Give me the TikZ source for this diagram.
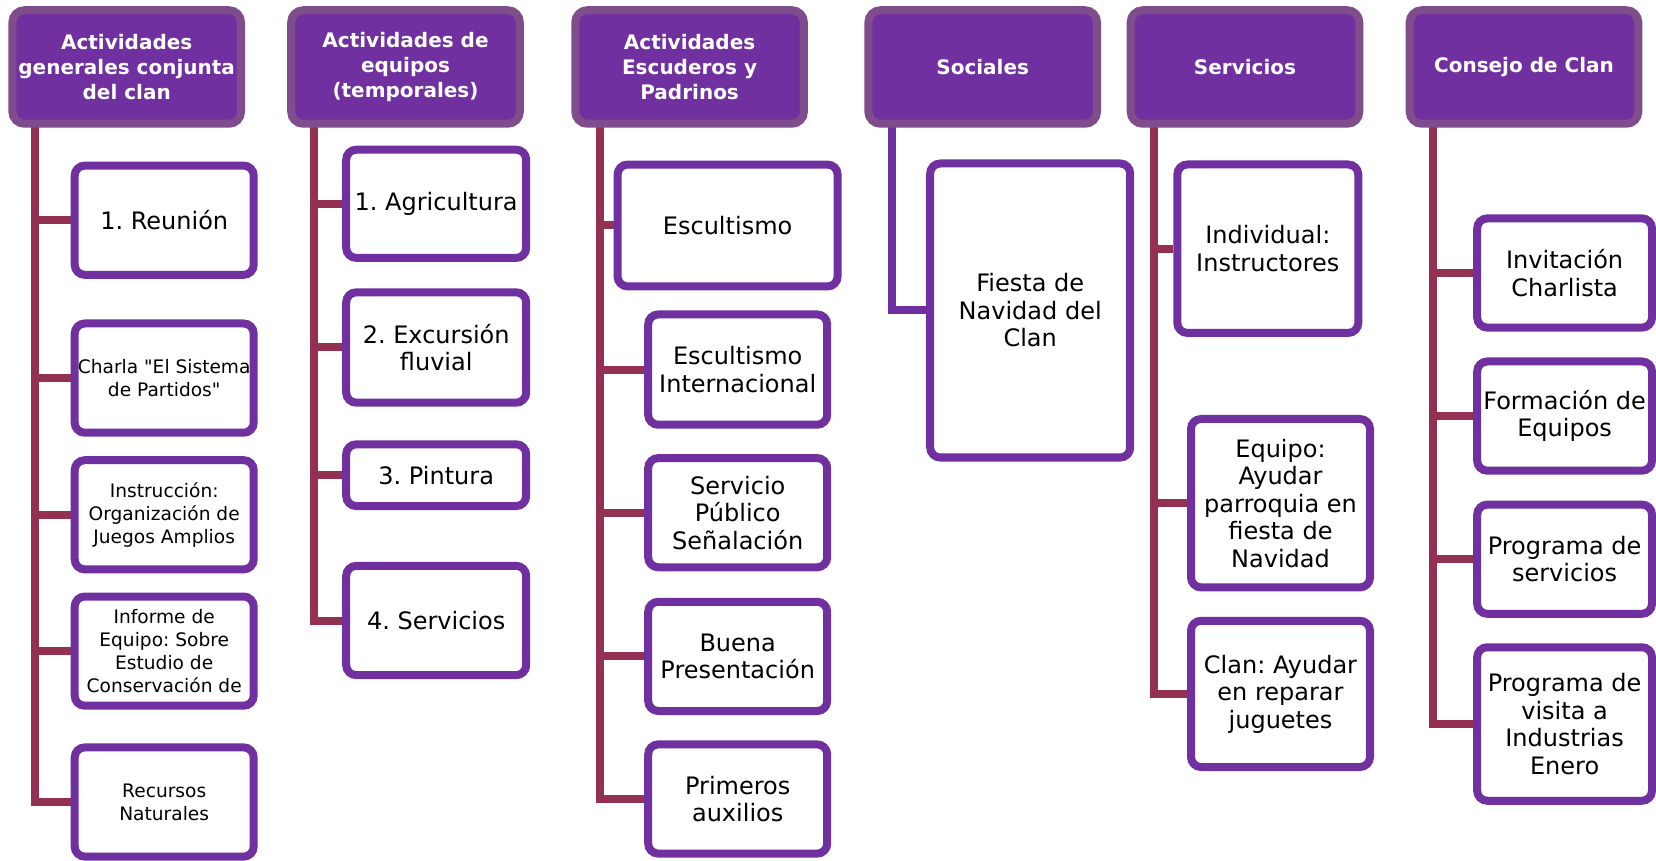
\documentclass[tikz,border=0pt]{standalone}
\usepackage{fontspec}
\setmainfont{DejaVu Sans}
\usepackage{tikz}
\usetikzlibrary{backgrounds}
\definecolor{hdrfill}{HTML}{7030A0}
\definecolor{hdrline}{HTML}{7F4C8C}
\definecolor{boxline}{HTML}{7030A0}
\definecolor{trunkcol}{HTML}{943152}
\frenchspacing

\begin{document}
\begin{tikzpicture}[x=0.5pt, y=-0.5pt,
  headbox/.style={draw=hdrline, fill=hdrfill, line width=4pt, rounded corners=6pt, text=white,
    align=center, inner sep=0pt, minimum width=114.3pt, minimum height=56.75pt,
    font=\bfseries\fontsize{10}{12.65}\selectfont},
  itembox/.style={draw=boxline, fill=white, line width=4pt, rounded corners=5pt,
    align=center, inner sep=0pt, font=\fontsize{12}{13.75}\selectfont},
  smalltext/.style={font=\fontsize{9.3}{11.4}\selectfont},
  trunk/.style={draw=trunkcol, line width=4pt},
  link/.style={draw=boxline, line width=4pt}]
\useasboundingbox (0,0) rectangle (1656,861);

% headers
\node[headbox] (h1) at (126.7,67) {Actividades\\generales conjunta\\del clan};
\node[headbox] (h2) at (405.5,67) {Actividades de\\equipos\\(temporales)};
\node[headbox] (h3) at (689.6,67) {Actividades\\Escuderos y\\Padrinos};
\node[headbox] (h4) at (982.7,67) {Sociales};
\node[headbox] (h5) at (1245,67) {Servicios};
\node[headbox] (h6) at (1524,67) {Consejo de Clan};

% column 1
\node[itembox, minimum width=89.5pt, minimum height=54.6pt] (c11) at (164.2,220.2) {1. Reunión};
\node[itembox, smalltext, minimum width=89.5pt, minimum height=54.6pt] (c12) at (164.2,378.1) {Charla \textquotedbl El Sistema\\de Partidos\textquotedbl};
\node[itembox, smalltext, minimum width=89.5pt, minimum height=54.6pt] (c13) at (164.2,514.8) {Instrucción:\\Organización de\\Juegos Amplios};
\node[itembox, smalltext, minimum width=89.5pt, minimum height=54.6pt] (c14) at (164.2,651.1) {Informe de\\Equipo: Sobre\\Estudio de\\Conservación de};
\node[itembox, smalltext, minimum width=89.5pt, minimum height=54.6pt] (c15) at (164.2,802) {Recursos\\Naturales};

% column 2
\node[itembox, minimum width=90pt, minimum height=54.1pt] (c21) at (436.2,203.8) {1. Agricultura};
\node[itembox, minimum width=90pt, minimum height=55.15pt] (c22) at (436.2,347.5) {2. Excursión\\fluvial};
\node[itembox, minimum width=90pt, minimum height=30.85pt] (c23) at (436.2,475.2) {3. Pintura};
\node[itembox, minimum width=90pt, minimum height=54.65pt] (c24) at (436.2,620.5) {4. Servicios};

% column 3
\node[itembox, minimum width=110pt, minimum height=60.95pt] (c31) at (727.6,225.5) {Escultismo};
\node[itembox, minimum width=89.5pt, minimum height=55.15pt] (c32) at (737.7,369.6) {Escultismo\\Internacional};
\node[itembox, minimum width=89.5pt, minimum height=54.6pt] (c33) at (737.7,512.7) {Servicio\\Público\\Señalación};
\node[itembox, minimum width=89.5pt, minimum height=54.6pt] (c34) at (737.7,656.4) {Buena\\Presentación};
\node[itembox, minimum width=89.5pt, minimum height=54.6pt] (c35) at (737.7,799) {Primeros\\auxilios};

% column 4
\node[itembox, minimum width=100pt, minimum height=147pt] (c41) at (1030.2,310.5) {Fiesta de\\Navidad del\\Clan};

% column 5
\node[itembox, minimum width=90.5pt, minimum height=84.2pt] (c51) at (1267.8,248.7) {Individual:\\Instructores};
\node[itembox, minimum width=89.5pt, minimum height=84.2pt] (c52) at (1280.5,503.2) {Equipo:\\Ayudar\\parroquia en\\fiesta de\\Navidad};
\node[itembox, minimum width=89.5pt, minimum height=73.1pt] (c53) at (1280.5,693.9) {Clan: Ayudar\\en reparar\\juguetes};

% column 6
\node[itembox, minimum width=87.4pt, minimum height=54.6pt] (c61) at (1564.6,273) {Invitación\\Charlista};
\node[itembox, minimum width=87.4pt, minimum height=54.6pt] (c62) at (1564.6,416.1) {Formación de\\Equipos};
\node[itembox, minimum width=87.4pt, minimum height=54.6pt] (c63) at (1564.6,559.2) {Programa de\\servicios};
\node[itembox, minimum width=87.4pt, minimum height=76.75pt] (c64) at (1564.6,724) {Programa de\\visita a\\Industrias\\Enero};

% trunk tops, hidden under the headers
\coordinate (t1) at (35,100);
\coordinate (t2) at (313.7,100);
\coordinate (t3) at (599.9,100);
\coordinate (t4) at (892.4,100);
\coordinate (t5) at (1154.3,100);
\coordinate (t6) at (1433.1,100);

\begin{scope}[on background layer]
\draw[trunk] (t1) |- (c15);
\draw[trunk] (t1 |- c11) -- (c11);
\draw[trunk] (t1 |- c12) -- (c12);
\draw[trunk] (t1 |- c13) -- (c13);
\draw[trunk] (t1 |- c14) -- (c14);

\draw[trunk] (t2) |- (c24);
\draw[trunk] (t2 |- c21) -- (c21);
\draw[trunk] (t2 |- c22) -- (c22);
\draw[trunk] (t2 |- c23) -- (c23);

\draw[trunk] (t3) |- (c35);
\draw[trunk] (t3 |- c31) -- (c31);
\draw[trunk] (t3 |- c32) -- (c32);
\draw[trunk] (t3 |- c33) -- (c33);
\draw[trunk] (t3 |- c34) -- (c34);

\draw[link] (t4) |- (c41);

\draw[trunk] (t5) |- (c53);
\draw[trunk] (t5 |- c51) -- (c51);
\draw[trunk] (t5 |- c52) -- (c52);

\draw[trunk] (t6) |- (c64);
\draw[trunk] (t6 |- c61) -- (c61);
\draw[trunk] (t6 |- c62) -- (c62);
\draw[trunk] (t6 |- c63) -- (c63);
\end{scope}
\end{tikzpicture}
\end{document}
